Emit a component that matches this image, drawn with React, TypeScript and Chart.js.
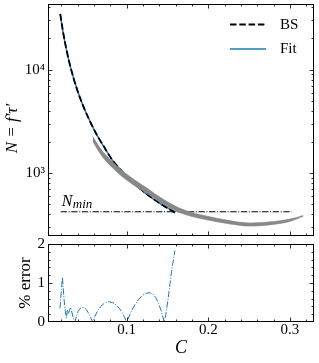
import React, { useEffect, useRef } from 'react';
import { Chart, registerables } from 'chart.js';

Chart.register(...registerables);

// ---------- data ----------
const C_CURVE = [0.0187, 0.022, 0.026, 0.030, 0.035, 0.040, 0.046, 0.052, 0.058, 0.065, 0.073, 0.082, 0.092, 0.103, 0.115, 0.128, 0.142, 0.159];
const N_BS = [34500, 23550, 16030, 11620, 8280, 6210, 4630, 3580, 2846, 2240, 1766, 1360, 1093, 887, 727, 603, 505, 417];
const N_FIT = [34380, 23300, 15990, 11580, 8300, 6230, 4620, 3590, 2856, 2230, 1757, 1355, 1097, 889, 722, 598, 505, 425];

const C_BAND = [0.0584, 0.0673, 0.075, 0.0836, 0.094, 0.104, 0.1145, 0.1245, 0.1345, 0.1448, 0.155, 0.1653, 0.18, 0.198, 0.2225, 0.251, 0.2795, 0.300, 0.3163];
const N_BAND_UPPER = [2268, 1768, 1485, 1273, 1070, 929, 815, 723, 636, 562, 506, 459, 418, 386, 353, 331, 342, 361, 391];
const N_BAND_LOWER = [2038, 1559, 1301, 1112, 935, 815, 718, 640, 566, 503, 455, 416, 382, 355, 328, 309, 321, 343, 385];

const C_NMIN = [0.0192, 0.302];
const N_MIN = [425, 425];

const C_ERR = [0.0183, 0.0198, 0.0214, 0.0224, 0.0235, 0.0248, 0.0262, 0.0275, 0.0287, 0.0300, 0.0312, 0.0325, 0.0345, 0.0367,
  0.0385, 0.0405, 0.043, 0.0455, 0.048, 0.051, 0.054, 0.0565, 0.0584,
  0.061, 0.064, 0.068, 0.0725, 0.0775, 0.0825, 0.087, 0.091, 0.0945, 0.0975, 0.1,
  0.103, 0.106, 0.11, 0.115, 0.12, 0.1245, 0.1285, 0.132, 0.1355, 0.139, 0.142, 0.144, 0.146,
  0.148, 0.151, 0.155, 0.159];
const ERR = [0.35, 0.75, 1.15, 0.85, 0.55, 0.3, 0.1, 0.32, 0.22, 0.3, 0.38, 0.28, 0.12, 0,
  0.15, 0.27, 0.35, 0.38, 0.37, 0.31, 0.2, 0.09, 0,
  0.14, 0.27, 0.39, 0.48, 0.52, 0.5, 0.44, 0.35, 0.24, 0.12, 0,
  0.15, 0.29, 0.44, 0.59, 0.69, 0.74, 0.75, 0.72, 0.63, 0.48, 0.3, 0.15, 0,
  0.2, 0.63, 1.3, 1.83];

const X_TICKS = [0.1, 0.2, 0.3];
const X_MINOR = [0.02, 0.04, 0.06, 0.08, 0.12, 0.14, 0.16, 0.18, 0.22, 0.24, 0.26, 0.28, 0.32];
const Y_TICKS_TOP = [1000, 10000];
const Y_TICK_LABELS_TOP = ['10³', '10⁴'];
const Y_MINOR_TOP = [300, 400, 500, 600, 700, 800, 900, 2000, 3000, 4000, 5000, 6000, 7000, 8000, 9000, 20000, 30000, 40000];
const Y_TICKS_ERR = [0, 1, 2];
const Y_MINOR_ERR = [0.2, 0.4, 0.6, 0.8, 1.2, 1.4, 1.6, 1.8];

const X_MIN = 0.0037;
const X_MAX = 0.3294;
const Y_MIN_TOP = 248;
const Y_MAX_TOP = 43060;

const LABEL_BS = 'BS';
const LABEL_FIT = 'Fit';
const LEGEND_ORDER = [LABEL_BS, LABEL_FIT];
const NMIN_MAIN = 'N';
const NMIN_SUB = 'min';
const Y_TITLE_TOP = 'N = f′τ′\u2002\u2002';
const Y_TITLE_ERR = '% error';
const X_TITLE = 'C';

const FONT = '"Liberation Serif", "DejaVu Serif", serif';
const BLUE = '#1f77b4';
const GRAY = '#888888';

const pts = (xs: number[], ys: number[]) => xs.map((x, i) => ({ x, y: ys[i] }));

function frameTicks(xMajor: number[], xMinor: number[], yMajor: number[], yMinor: number[]) {
  return {
    id: 'frameTicks',
    afterDraw(chart: any) {
      const { ctx, chartArea: a, scales } = chart;
      const xs = scales.x;
      const ys = scales.y;
      const L = Math.round(a.left) + 0.5;
      const R = Math.round(a.right) - 0.5;
      const T = Math.round(a.top) + 0.5;
      const B = Math.round(a.bottom) - 0.5;
      ctx.save();
      ctx.strokeStyle = '#000';
      ctx.lineWidth = 0.8;
      const seg = (x1: number, y1: number, x2: number, y2: number) => {
        ctx.beginPath();
        ctx.moveTo(x1, y1);
        ctx.lineTo(x2, y2);
        ctx.stroke();
      };
      const xt = (v: number, len: number) => {
        const p = Math.round(xs.getPixelForValue(v)) + 0.5;
        if (p < L || p > R) return;
        seg(p, T, p, T + len);
        seg(p, B, p, B - len);
      };
      const yt = (v: number, len: number) => {
        const p = Math.round(ys.getPixelForValue(v)) + 0.5;
        if (p < T || p > B) return;
        seg(L, p, L + len, p);
        seg(R, p, R - len, p);
      };
      xMajor.forEach((v) => xt(v, 4));
      xMinor.forEach((v) => xt(v, 2));
      yMajor.forEach((v) => yt(v, 4));
      yMinor.forEach((v) => yt(v, 2));
      ctx.lineWidth = 1;
      ctx.strokeRect(L, T, R - L, B - T);
      ctx.restore();
    },
  };
}

const legendPlugin = {
  id: 'lineLegend',
  afterDraw(chart: any) {
    const { ctx, chartArea: a } = chart;
    const items = LEGEND_ORDER.map((lab) => chart.data.datasets.find((d: any) => d.label === lab));
    ctx.save();
    items.forEach((d: any, i: number) => {
      const y = a.top + 20.5 + i * 24.5;
      ctx.strokeStyle = d.borderColor;
      ctx.lineWidth = d.borderWidth;
      ctx.setLineDash(d.borderDash || []);
      ctx.beginPath();
      ctx.moveTo(a.right - 84, y);
      ctx.lineTo(a.right - 48, y);
      ctx.stroke();
      ctx.setLineDash([]);
      ctx.fillStyle = '#000';
      ctx.font = `15px ${FONT}`;
      ctx.textBaseline = 'middle';
      ctx.textAlign = 'left';
      ctx.fillText(d.label, a.right - 34, y + 0.5);
    });
    ctx.restore();
  },
};

const nminLabelPlugin = {
  id: 'nminLabel',
  afterDraw(chart: any) {
    const { ctx, scales } = chart;
    const x = scales.x.getPixelForValue(C_NMIN[0]) + 1;
    const yLine = scales.y.getPixelForValue(N_MIN[0]);
    ctx.save();
    ctx.fillStyle = '#000';
    ctx.textBaseline = 'alphabetic';
    ctx.textAlign = 'left';
    ctx.font = `italic 16px ${FONT}`;
    ctx.fillText(NMIN_MAIN, x, yLine - 5.5);
    const w = ctx.measureText(NMIN_MAIN).width;
    ctx.font = `italic 13px ${FONT}`;
    ctx.fillText(NMIN_SUB, x + w + 0.5, yLine - 4);
    ctx.restore();
  },
};

export default function App() {
  const topRef = useRef<HTMLCanvasElement>(null);
  const botRef = useRef<HTMLCanvasElement>(null);

  useEffect(() => {
    const tickFont = { family: FONT, size: 15, lineHeight: 1 };

    const top = new Chart(topRef.current as HTMLCanvasElement, {
      type: 'line',
      data: {
        datasets: [
          {
            label: 'band-upper',
            data: pts(C_BAND, N_BAND_UPPER),
            borderColor: GRAY,
            backgroundColor: GRAY,
            borderWidth: 0.6,
            pointRadius: 0,
            fill: '+1',
            cubicInterpolationMode: 'monotone',
            order: 0,
          },
          {
            label: 'band-lower',
            data: pts(C_BAND, N_BAND_LOWER),
            borderColor: GRAY,
            backgroundColor: GRAY,
            borderWidth: 0.6,
            pointRadius: 0,
            fill: false,
            cubicInterpolationMode: 'monotone',
            order: 0,
          },
          {
            label: LABEL_BS,
            data: pts(C_CURVE, N_BS),
            borderColor: '#000000',
            borderWidth: 1.8,
            borderDash: [6.5, 2.8],
            pointRadius: 0,
            fill: false,
            cubicInterpolationMode: 'monotone',
            order: 1,
          },
          {
            label: LABEL_FIT,
            data: pts(C_CURVE, N_FIT),
            borderColor: BLUE,
            borderWidth: 1.5,
            pointRadius: 0,
            fill: false,
            cubicInterpolationMode: 'monotone',
            order: 2,
          },
          {
            label: 'Nmin',
            data: pts(C_NMIN, N_MIN),
            borderColor: '#000000',
            borderWidth: 1,
            borderDash: [6.4, 1.6, 1, 1.6],
            pointRadius: 0,
            fill: false,
            order: 3,
          },
        ],
      },
      options: {
        animation: false,
        responsive: false,
        layout: { padding: { left: 0, top: 4, right: 5, bottom: 127 } },
        plugins: { legend: { display: false }, tooltip: { enabled: false } },
        scales: {
          x: {
            type: 'linear',
            min: X_MIN,
            max: X_MAX,
            grid: { display: false },
            border: { display: false },
            ticks: { display: false },
            afterFit: (s: any) => {
              s.height = 0;
              s.paddingLeft = 0;
              s.paddingRight = 0;
            },
          },
          y: {
            type: 'logarithmic',
            min: Y_MIN_TOP,
            max: Y_MAX_TOP,
            grid: { display: false, drawTicks: false },
            border: { display: false },
            ticks: {
              font: tickFont,
              color: '#000',
              padding: 3,
              callback: (v: any) => {
                const i = Y_TICKS_TOP.indexOf(Number(v));
                return i >= 0 ? Y_TICK_LABELS_TOP[i] : '';
              },
            },
            afterBuildTicks: (s: any) => {
              s.ticks = Y_TICKS_TOP.map((v) => ({ value: v }));
            },
            afterFit: (s: any) => {
              s.width = 48;
              s.paddingTop = 0;
              s.paddingBottom = 0;
            },
            title: {
              display: true,
              text: Y_TITLE_TOP,
              color: '#000',
              font: { family: FONT, size: 17, style: 'italic', lineHeight: 1.2 },
              padding: { top: 2, bottom: 0 },
            },
          },
        },
      } as any,
      plugins: [frameTicks([0.1, 0.2, 0.3], X_MINOR, Y_TICKS_TOP, Y_MINOR_TOP), legendPlugin, nminLabelPlugin],
    } as any);

    const bot = new Chart(botRef.current as HTMLCanvasElement, {
      type: 'line',
      data: {
        datasets: [
          {
            label: 'error',
            data: pts(C_ERR, ERR),
            borderColor: BLUE,
            borderWidth: 1,
            borderDash: [6.4, 1.6, 1, 1.6],
            pointRadius: 0,
            fill: false,
            tension: 0,
          },
        ],
      },
      options: {
        animation: false,
        responsive: false,
        layout: { padding: { left: 0, top: 244, right: 5, bottom: 0 } },
        plugins: { legend: { display: false }, tooltip: { enabled: false } },
        scales: {
          x: {
            type: 'linear',
            min: X_MIN,
            max: X_MAX,
            grid: { display: false, drawTicks: false },
            border: { display: false },
            ticks: {
              font: tickFont,
              color: '#000',
              padding: 1,
              maxRotation: 0,
              autoSkip: false,
              callback: (v: any) => Number(v).toFixed(1),
            },
            afterBuildTicks: (s: any) => {
              s.ticks = X_TICKS.map((v) => ({ value: v }));
            },
            afterFit: (s: any) => {
              s.height = 41;
              s.paddingLeft = 0;
              s.paddingRight = 0;
            },
            title: {
              display: true,
              text: X_TITLE,
              color: '#000',
              font: { family: FONT, size: 18, style: 'italic', lineHeight: 1.2 },
              padding: { top: 0, bottom: 4 },
            },
          },
          y: {
            type: 'linear',
            min: 0,
            max: 2,
            grid: { display: false, drawTicks: false },
            border: { display: false },
            ticks: {
              font: tickFont,
              color: '#000',
              padding: 3,
              callback: (v: any) => String(v),
            },
            afterBuildTicks: (s: any) => {
              s.ticks = Y_TICKS_ERR.map((v) => ({ value: v }));
            },
            afterFit: (s: any) => {
              s.width = 48;
              s.paddingTop = 0;
              s.paddingBottom = 0;
            },
            title: {
              display: true,
              text: Y_TITLE_ERR,
              color: '#000',
              font: { family: FONT, size: 17, lineHeight: 1.2 },
              padding: { top: 15, bottom: 0 },
            },
          },
        },
      } as any,
      plugins: [frameTicks(X_TICKS, X_MINOR, Y_TICKS_ERR, Y_MINOR_ERR)],
    } as any);

    return () => {
      top.destroy();
      bot.destroy();
    };
  }, []);

  const cs: React.CSSProperties = { position: 'absolute', left: 0, top: 0, width: 319, height: 363 };
  return (
    <div style={{ position: 'fixed', left: 0, top: 0, width: 319, height: 363, background: '#fff' }}>
      <canvas ref={topRef} width={319} height={363} style={cs} />
      <canvas ref={botRef} width={319} height={363} style={cs} />
    </div>
  );
}
